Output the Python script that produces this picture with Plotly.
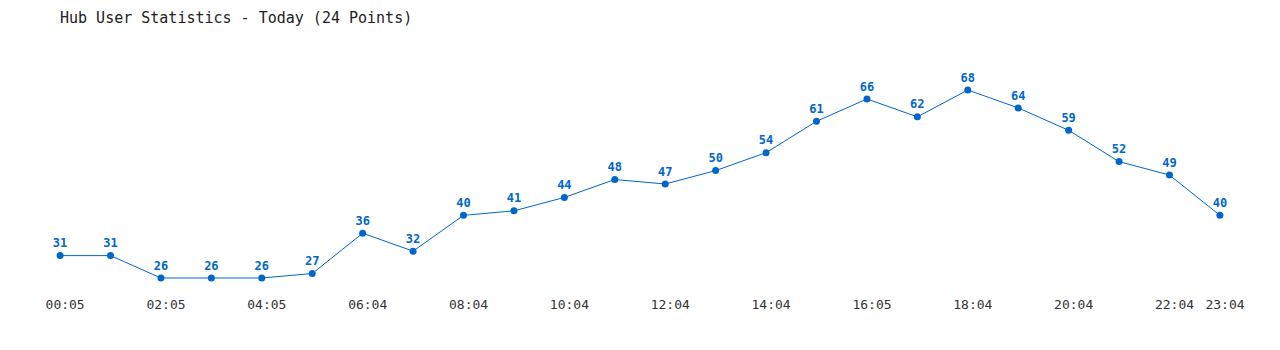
import plotly.graph_objects as go

values = [31, 31, 26, 26, 26, 27, 36, 32, 40, 41, 44, 48, 47, 50, 54, 61, 66, 62, 68, 64, 59, 52, 49, 40]
tick_positions = [0, 2, 4, 6, 8, 10, 12, 14, 16, 18, 20, 22, 23]
tick_labels = ["00:05", "02:05", "04:05", "06:04", "08:04", "10:04", "12:04",
               "14:04", "16:05", "18:04", "20:04", "22:04", "23:04"]
title = "Hub User Statistics - Today (24 Points)"

color = "#0066CC"
mono = "DejaVu Sans Mono, Liberation Mono, monospace"
label_shift = 0.1  # tick labels sit slightly right of their points in the reference

fig = go.Figure(go.Scatter(
    x=list(range(len(values))), y=values,
    mode="lines+markers+text",
    line=dict(color=color, width=1),
    marker=dict(color=color, size=7),
    text=[str(v) for v in values],
    textposition="top center",
    textfont=dict(family=mono, size=12, color=color, weight="bold"),
    cliponaxis=False,
    hoverinfo="x+y",
))

fig.update_layout(
    width=1280, height=350,
    margin=dict(l=50, r=50, t=40, b=60),
    paper_bgcolor="white", plot_bgcolor="white",
    showlegend=False,
    title=dict(text=title, x=60/1280, xanchor="left", y=1-18/350, yanchor="middle",
               font=dict(family=mono, size=15, color="#222")),
    xaxis=dict(range=[-0.2, 23.2], tickvals=[p + label_shift for p in tick_positions],
               ticktext=tick_labels,
               showgrid=False, zeroline=False, showline=False, ticks="",
               ticklabelstandoff=5,
               tickfont=dict(family=mono, size=13, color="#333")),
    yaxis=dict(range=[23.32, 79.17], visible=False, showgrid=False, zeroline=False),
)

fig.write_html("out.html")
